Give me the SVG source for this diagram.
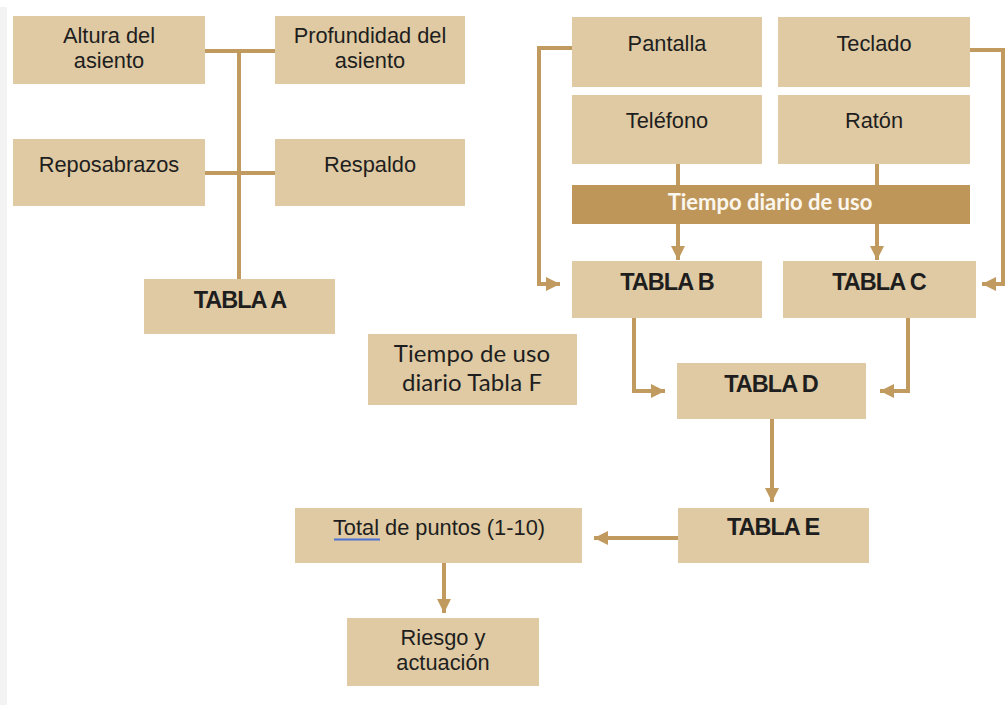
<svg xmlns="http://www.w3.org/2000/svg" width="1008" height="705" viewBox="0 0 1008 705">
<defs>
<style>
.box{fill:#dfcaa3}
.bar{fill:#be965a}
.t{font-family:"Liberation Sans",Arial,sans-serif;font-size:21.8px;fill:#1e1e1e;text-anchor:middle}
.b{font-family:"Liberation Sans",Arial,sans-serif;font-size:23.5px;font-weight:bold;letter-spacing:-1px;fill:#1e1e1e;text-anchor:middle}
.c{font-family:Lato,"Open Sans",sans-serif;font-size:24px;fill:#1e1e1e;text-anchor:middle;letter-spacing:0.1px}
.w{font-family:Lato,"Open Sans",sans-serif;font-size:22px;font-weight:bold;fill:#fbf6ee;text-anchor:middle}
.ln{fill:none;stroke:#c09a5e;stroke-width:4}
.ar{fill:none;stroke:#c09a5e;stroke-width:4;marker-end:url(#ah)}
</style>
<marker id="ah" markerUnits="userSpaceOnUse" markerWidth="15" markerHeight="15" refX="14" refY="7" orient="auto">
<path d="M0,0 L14,7 L0,14 Z" fill="#c09a5e"/>
</marker>
</defs>
<rect x="0" y="0" width="1008" height="705" fill="#ffffff"/>
<rect x="0" y="7" width="7" height="698" fill="#f3f3f3"/>

<g id="connectors">
<path class="ln" d="M205,51 H275 M205,173 H275 M239,51 V279"/>
<path class="ar" d="M572,48 H539 V284 H560"/>
<path class="ar" d="M970,50 H1003 V284 H982"/>
<path class="ln" d="M678,164 V185 M877,164 V185"/>
<path class="ar" d="M678,224 V260"/>
<path class="ar" d="M877,224 V260"/>
<path class="ar" d="M634,318 V391 H665"/>
<path class="ar" d="M908,318 V391 H880"/>
<path class="ar" d="M772,419 V502"/>
<path class="ar" d="M678,538 H594"/>
<path class="ar" d="M444,563 V613"/>
</g>

<g id="altura"><rect class="box" x="13" y="16" width="192" height="68"/><text class="t" x="109" y="43">Altura del</text><text class="t" x="109" y="68">asiento</text></g>
<g id="profundidad"><rect class="box" x="275" y="16" width="190" height="68"/><text class="t" x="370" y="43">Profundidad del</text><text class="t" x="370" y="68">asiento</text></g>
<g id="reposabrazos"><rect class="box" x="13" y="139" width="192" height="67"/><text class="t" x="109" y="172">Reposabrazos</text></g>
<g id="respaldo"><rect class="box" x="275" y="139" width="190" height="67"/><text class="t" x="370" y="172">Respaldo</text></g>
<g id="tablaA"><rect class="box" x="144" y="279" width="191" height="55"/><text class="b" x="240" y="308">TABLA A</text></g>

<g id="pantalla"><rect class="box" x="572" y="17" width="190" height="70"/><text class="t" x="667" y="51">Pantalla</text></g>
<g id="teclado"><rect class="box" x="778" y="17" width="192" height="70"/><text class="t" x="874" y="51">Teclado</text></g>
<g id="telefono"><rect class="box" x="572" y="95" width="190" height="69"/><text class="t" x="667" y="128">Teléfono</text></g>
<g id="raton"><rect class="box" x="778" y="95" width="192" height="69"/><text class="t" x="874" y="128">Ratón</text></g>
<g id="tiempo-diario"><rect class="bar" x="572" y="185" width="398" height="39"/><text class="w" x="770" y="210">Tiempo diario de uso</text></g>
<g id="tablaB"><rect class="box" x="572" y="261" width="190" height="57"/><text class="b" x="667" y="290">TABLA B</text></g>
<g id="tablaC"><rect class="box" x="783" y="261" width="193" height="57"/><text class="b" x="879" y="290">TABLA C</text></g>

<g id="tablaF"><rect class="box" x="368" y="334" width="209" height="71"/><text class="c" x="472" y="362">Tiempo de uso</text><text class="c" x="472" y="391">diario Tabla F</text></g>
<g id="tablaD"><rect class="box" x="677" y="363" width="189" height="56"/><text class="b" x="771" y="392">TABLA D</text></g>
<g id="tablaE"><rect class="box" x="678" y="508" width="191" height="55"/><text class="b" x="773" y="535">TABLA E</text></g>
<g id="total"><rect class="box" x="295" y="508" width="287" height="55"/><text class="t" x="439" y="535">Total de puntos (1-10)</text><path d="M334,539.5 H380" stroke="#4a72d4" stroke-width="2" fill="none"/></g>
<g id="riesgo"><rect class="box" x="347" y="618" width="192" height="68"/><text class="t" x="443" y="645">Riesgo y</text><text class="t" x="443" y="670">actuación</text></g>
</svg>
